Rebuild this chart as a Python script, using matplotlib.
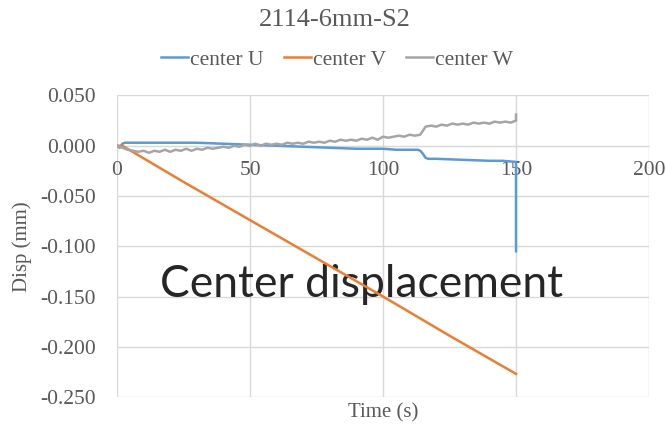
import matplotlib
matplotlib.use("Agg")
import matplotlib.pyplot as plt

# --- data -----------------------------------------------------------------
title = "2114-6mm-S2"
series_names = ["center U", "center V", "center W"]

t_u = [0, 1, 2, 3, 5, 10, 20, 30, 40, 50, 60, 70, 80, 90, 100, 105, 110,
       113, 114, 115, 116, 117, 120, 130, 140, 145, 149.5, 150, 150]
u = [0.000, -0.002, 0.002, 0.003, 0.003, 0.003, 0.003, 0.003, 0.002, 0.001,
     0.000, -0.001, -0.002, -0.003, -0.003, -0.004, -0.004, -0.004, -0.005,
     -0.008, -0.012, -0.013, -0.013, -0.014, -0.015, -0.015, -0.016, -0.016,
     -0.105]

t_v = [0, 2, 25, 50, 75, 100, 125, 150]
v = [0.000, 0.000, -0.036, -0.074, -0.112, -0.150, -0.189, -0.227]

t_w = list(range(0, 152, 2)) + [150]
w = [0.000, -0.002, -0.004, -0.005, -0.006, -0.005, -0.007, -0.005, -0.006,
     -0.004, -0.006, -0.004, -0.005, -0.003, -0.005, -0.003, -0.004, -0.002,
     -0.003, -0.002, -0.001, -0.002, 0.000, -0.001, 0.001, 0.000, 0.002,
     0.000, 0.002, 0.001, 0.002, 0.001, 0.003, 0.002, 0.003, 0.002, 0.004,
     0.003, 0.004, 0.003, 0.005, 0.004, 0.006, 0.005, 0.006, 0.005, 0.007,
     0.006, 0.008, 0.006, 0.009, 0.008, 0.009, 0.010, 0.009, 0.011, 0.010,
     0.011, 0.019, 0.020, 0.019, 0.021, 0.020, 0.022, 0.021, 0.022, 0.021,
     0.023, 0.022, 0.023, 0.022, 0.024, 0.023, 0.024, 0.023, 0.025, 0.031]

x_ticks = [0, 50, 100, 150, 200]
y_ticks = [0.05, 0.0, -0.05, -0.10, -0.15, -0.20, -0.25]

colors = ["#5B9BD5", "#ED7D31", "#A5A5A5"]
text_gray = "#595959"
grid_gray = "#D9D9D9"

# --- figure ---------------------------------------------------------------
fig = plt.figure(figsize=(6.66, 4.28), dpi=100)
ax = fig.add_axes([0.1757, 0.0724, 0.7988, 0.7045])

serif = ["Liberation Serif", "DejaVu Serif"]

ax.plot(t_u, u, color=colors[0], lw=1.8, label=series_names[0], zorder=3)
ax.plot(t_v, v, color=colors[1], lw=1.8, label=series_names[1], zorder=3)
ax.plot(t_w, w, color=colors[2], lw=1.8, label=series_names[2], zorder=3)

ax.set_xlim(0, 200)
ax.set_ylim(-0.25, 0.05)
ax.set_xticks(x_ticks)
ax.set_yticks(y_ticks)
ax.set_yticklabels([f"{y:.3f}" for y in y_ticks])
ax.grid(True, color=grid_gray, lw=1.0, zorder=0)

for side in ("top", "right", "left"):
    ax.spines[side].set_visible(False)
ax.spines["bottom"].set_position(("data", 0))
ax.spines["bottom"].set_color(grid_gray)
ax.spines["bottom"].set_zorder(1)

ax.tick_params(axis="both", length=0, labelcolor=text_gray, labelsize=15.5)
ax.tick_params(axis="x", pad=11)
ax.tick_params(axis="y", pad=15)
for lbl in ax.get_xticklabels() + ax.get_yticklabels():
    lbl.set_family(serif)

ax.set_xlabel("Time (s)", family=serif, fontsize=15, color=text_gray,
              va="center")
ax.xaxis.set_label_coords(0.5, -0.053)
ax.set_ylabel("Disp (mm)", family=serif, fontsize=15, color=text_gray,
              va="center")
ax.yaxis.set_label_coords(-0.179, 0.5)

fig.text(0.503, 0.953, title, ha="center", va="center", family=serif,
         fontsize=19, color=text_gray)

leg = fig.legend(loc="center", bbox_to_anchor=(0.506, 0.86), ncol=3,
                 frameon=False, prop={"family": serif, "size": 15.5},
                 handlelength=1.25, handletextpad=0.08, columnspacing=0.95)
for txt in leg.get_texts():
    txt.set_color(text_gray)

ax.text(0.459, 0.333, "Center displacement", transform=ax.transAxes,
        ha="center", va="baseline", fontsize=32, color="#262626",
        family=["Lato", "DejaVu Sans"], zorder=2.5)

fig.savefig("out.png", dpi=100)
